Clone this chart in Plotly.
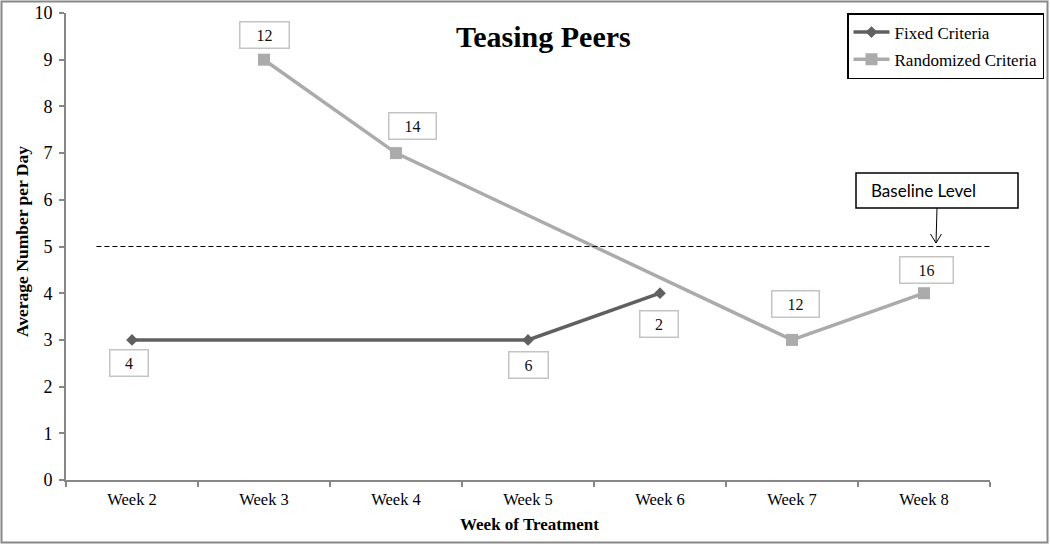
import plotly.graph_objects as go

weeks = ["Week 2", "Week 3", "Week 4", "Week 5", "Week 6", "Week 7", "Week 8"]
fixed_vals = [3, None, None, 3, 4, None, None]
fixed_labels = ["4", None, None, "6", "2", None, None]
rand_vals = [None, 9, 7, None, None, 3, 4]
rand_labels = [None, "12", "14", None, None, "12", "16"]
baseline = 5
yticks = list(range(0, 11))

W, H = 1050, 544
ml, mr, mt, mb = 66, 60, 13, 64
pw, ph = W - ml - mr, H - mt - mb

serif = "Liberation Serif"
axis_col = "#878787"

fig = go.Figure()
fig.add_trace(go.Scatter(
    x=weeks, y=fixed_vals, mode="lines+markers", name="Fixed Criteria",
    connectgaps=True, legendgroup="a",
    line=dict(color="#606060", width=3.5),
    marker=dict(symbol="diamond", size=9, color="#606060")))
fig.add_trace(go.Scatter(
    x=weeks, y=rand_vals, mode="lines+markers", name="Randomized Criteria",
    connectgaps=True, legendgroup="b",
    line=dict(color="#ABABAB", width=3.5),
    marker=dict(symbol="square", size=12, color="#ABABAB")))

# label box placement (xshift, yshift, box width) per point, in pixels
fixed_box = {0: (-3, -23, 37), 3: (0, -25, 38), 4: (-1, -31, 37)}
rand_box = {1: (0, 25, 48), 2: (16, 27, 46), 5: (3, 36, 46), 6: (2, 23, 52)}

def add_label(i, v, txt, box):
    fig.add_annotation(
        x=weeks[i], y=v, xref="x", yref="y", text=txt, showarrow=False,
        xshift=box[0], yshift=box[1],
        font=dict(family=serif, size=16, color="#111"),
        bordercolor="#C4C4C4", borderwidth=1.5, borderpad=0,
        bgcolor="white", width=box[2], height=25)

for i, (v, t) in enumerate(zip(fixed_vals, fixed_labels)):
    if t is not None:
        add_label(i, v, t, fixed_box[i])
for i, (v, t) in enumerate(zip(rand_vals, rand_labels)):
    if t is not None:
        add_label(i, v, t, rand_box[i])

# baseline dashed line
fig.add_shape(type="line", xref="x", yref="y", x0=-0.27, x1=6.72,
              y0=baseline, y1=baseline,
              line=dict(color="black", width=1, dash="5px,3px"))

def px_to_paper_x(px):
    return (px - ml) / pw

def px_to_paper_y(py):
    return (H - mb - py) / ph

X, Y = px_to_paper_x, px_to_paper_y

# Baseline Level callout box
fig.add_shape(type="rect", xref="paper", yref="paper",
              x0=X(856), x1=X(1018), y0=Y(208), y1=Y(173),
              line=dict(color="black", width=1.5), fillcolor="white")
fig.add_annotation(xref="paper", yref="paper", x=X(869), y=Y(190),
                   xanchor="left", yanchor="middle", text="Baseline Level", showarrow=False,
                   font=dict(family="Lato", size=17, color="black"))
# arrow (shaft + open V head)
fig.add_shape(type="path", xref="paper", yref="paper",
              path=f"M {X(937)} {Y(208)} L {X(936)} {Y(243)}",
              line=dict(color="black", width=1))
fig.add_shape(type="path", xref="paper", yref="paper",
              path=f"M {X(930.5)} {Y(234)} L {X(936)} {Y(243)} L {X(941.5)} {Y(234)}",
              line=dict(color="black", width=1))

# outer border
fig.add_shape(type="rect", xref="paper", yref="paper",
              x0=X(1.5), x1=X(1047.5), y0=Y(542.5), y1=Y(1.5),
              line=dict(color="#888888", width=2))

# title
fig.add_annotation(xref="paper", yref="paper", x=X(543), y=Y(36),
                   xanchor="center", yanchor="middle",
                   text="<b>Teasing Peers</b>", showarrow=False,
                   font=dict(family=serif, size=30, color="black"))
# axis titles
fig.add_annotation(xref="paper", yref="paper", x=X(22), y=Y(242),
                   xanchor="center", yanchor="middle",
                   text="<b>Average Number per Day</b>", showarrow=False, textangle=-90,
                   font=dict(family=serif, size=17.5, color="black"))
fig.add_annotation(xref="paper", yref="paper", x=X(529), y=Y(524),
                   xanchor="center", yanchor="middle",
                   text="<b>Week of Treatment</b>", showarrow=False,
                   font=dict(family=serif, size=17, color="black"))

fig.update_layout(
    width=W, height=H, margin=dict(l=ml, r=mr, t=mt, b=mb, autoexpand=False),
    paper_bgcolor="white", plot_bgcolor="white",
    showlegend=True,
    legend=dict(x=X(847), y=1.0, xanchor="left", yanchor="top",
                bordercolor="black", borderwidth=1.5, bgcolor="white",
                font=dict(family=serif, size=17, color="black"),
                tracegroupgap=2, itemwidth=36),
    xaxis=dict(type="category", categoryorder="array", categoryarray=weeks,
               range=[-0.5, 6.5], showline=True, linecolor=axis_col, linewidth=2,
               ticks="outside", tickson="boundaries", ticklen=5, tickcolor=axis_col,
               tickwidth=1.5, showgrid=False, zeroline=False, ticklabelstandoff=3,
               tickfont=dict(family=serif, size=16.5, color="black")),
    yaxis=dict(range=[0, 10], tickvals=yticks, showline=True, linecolor=axis_col,
               linewidth=2, ticks="outside", ticklen=5, tickcolor=axis_col, tickwidth=1.5,
               showgrid=False, zeroline=False, ticklabelstandoff=3,
               tickfont=dict(family=serif, size=18, color="black")),
)

fig.write_html("out.html", config={"displayModeBar": False},
               post_script="document.body.style.margin='0px';")
